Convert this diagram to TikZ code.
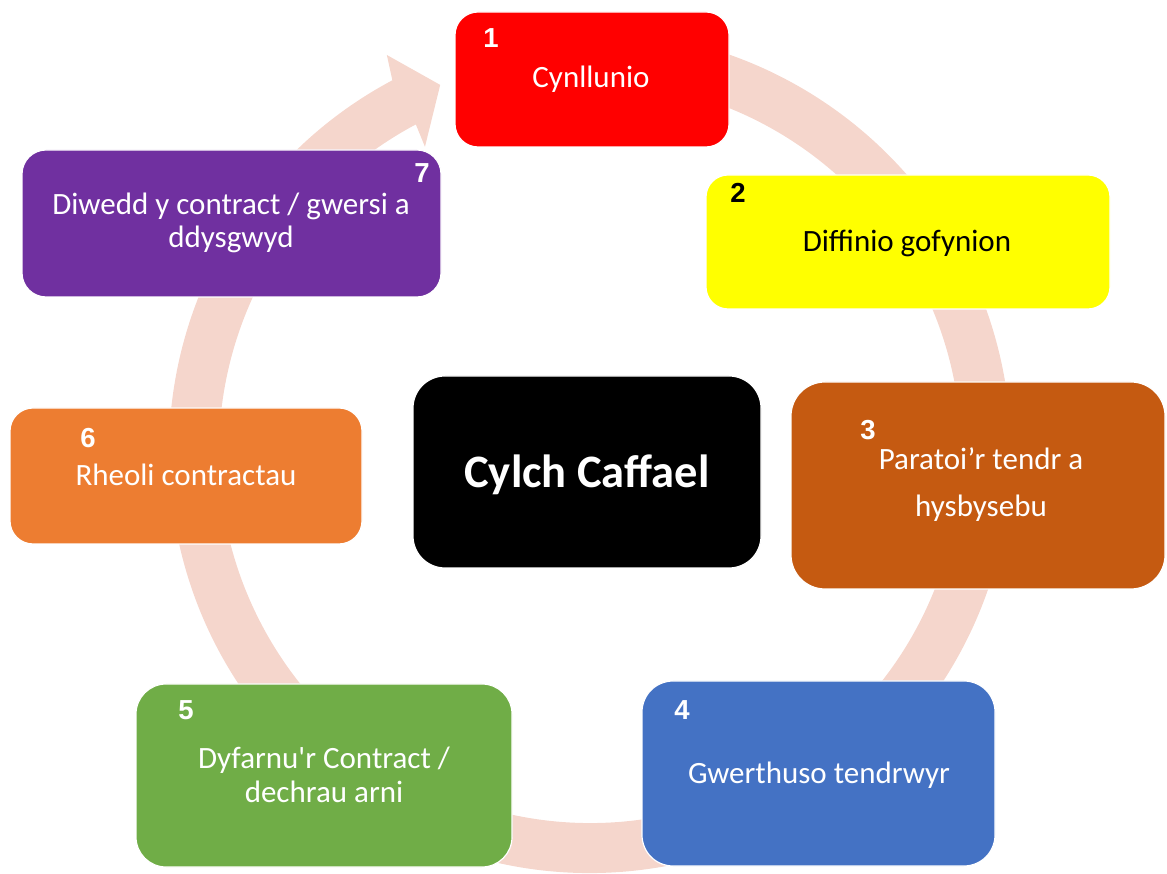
\documentclass[tikz,border=0pt]{standalone}
\usepackage{fontspec}
\setmainfont{Carlito}
\newfontfamily\numfont{Liberation Sans}
\definecolor{ringc}{HTML}{F5D6CC}
\definecolor{c1}{HTML}{FF0000}
\definecolor{c2}{HTML}{FFFF00}
\definecolor{c3}{HTML}{C55A11}
\definecolor{c4}{HTML}{4472C4}
\definecolor{c5}{HTML}{70AD47}
\definecolor{c6}{HTML}{ED7D31}
\definecolor{c7}{HTML}{7030A0}
\begin{document}
\begin{tikzpicture}[x=1pt,y=1pt,
  box/.style={rectangle, inner sep=0pt, draw=white, line width=1.2pt},
  lab/.style={anchor=base, inner sep=0pt, align=center, text=white},
  num/.style={anchor=center, inner sep=0pt, text=white, font=\numfont\bfseries\fontsize{27.5}{27.5}\selectfont}]
\useasboundingbox (0,0) rectangle (1167,873);
% circular arrow
\begin{scope}[shift={(590,421)}]
\fill[ringc] (100:421pt) arc[start angle=100, end angle=-242, radius=421pt]
  -- (-242.9:446pt) -- (-247.8:396.5pt) -- (-241.6:347pt) -- (-242:371pt)
  arc[start angle=-242, end angle=100, radius=371pt] -- cycle;
\end{scope}
% boxes
\node[box, fill=c1, minimum width=274pt, minimum height=135pt, rounded corners=23pt] (b1) at (592,793.5) {};
\node[box, fill=c2, minimum width=404pt, minimum height=134pt, rounded corners=22pt] (b2) at (908,631) {};
\node[box, fill=c3, minimum width=374pt, minimum height=207pt, rounded corners=34pt] (b3) at (978,387.5) {};
\node[box, fill=c4, minimum width=353pt, minimum height=185pt, rounded corners=31pt] (b4) at (818.5,99.5) {};
\node[box, fill=c5, minimum width=376pt, minimum height=183pt, rounded corners=30pt] (b5) at (324,97.5) {};
\node[box, fill=c6, minimum width=352pt, minimum height=136pt, rounded corners=23pt] (b6) at (186,397) {};
\node[box, fill=c7, minimum width=419pt, minimum height=147pt, rounded corners=24pt] (b7) at (231.5,649.5) {};
\node[box, fill=black, minimum width=348pt, minimum height=192pt, rounded corners=32pt] (bc) at (587,401) {};
% numbers
\node[num] (n1) at (491,835) {1};
\node[num, text=black] (n2) at (738,680) {2};
\node[num] (n3) at (868,443) {3};
\node[num] (n4) at (682,163) {4};
\node[num] (n5) at (186,163) {5};
\node[num] (n6) at (88,435) {6};
\node[num] (n7) at (422,700) {7};
% labels
\node[lab, font=\fontsize{31}{33}\selectfont] (t1) at (591,785.7) {Cynllunio};
\node[lab, text=black, font=\fontsize{31}{33}\selectfont] (t2) at (907,621.3) {Diffinio gofynion};
\node[lab, font=\fontsize{31}{46.7}\selectfont] (t3) at (981,356.3) {Paratoi’r tendr a\\hysbysebu};
\node[lab, font=\fontsize{31}{33}\selectfont] (t4) at (819,90) {Gwerthuso tendrwyr};
\node[lab, font=\fontsize{31}{34}\selectfont] (t5) at (324,71) {Dyfarnu\textquotesingle r Contract /\\dechrau arni};
\node[lab, font=\fontsize{31}{33}\selectfont] (t6) at (186,387) {Rheoli contractau};
\node[lab, font=\fontsize{31}{33}\selectfont] (t7) at (231,625) {Diwedd y contract / gwersi a\\ddysgwyd};
\node[lab, font=\bfseries\fontsize{46.5}{46.5}\selectfont] (tc) at (587,385) {Cylch Caffael};
\end{tikzpicture}
\end{document}
